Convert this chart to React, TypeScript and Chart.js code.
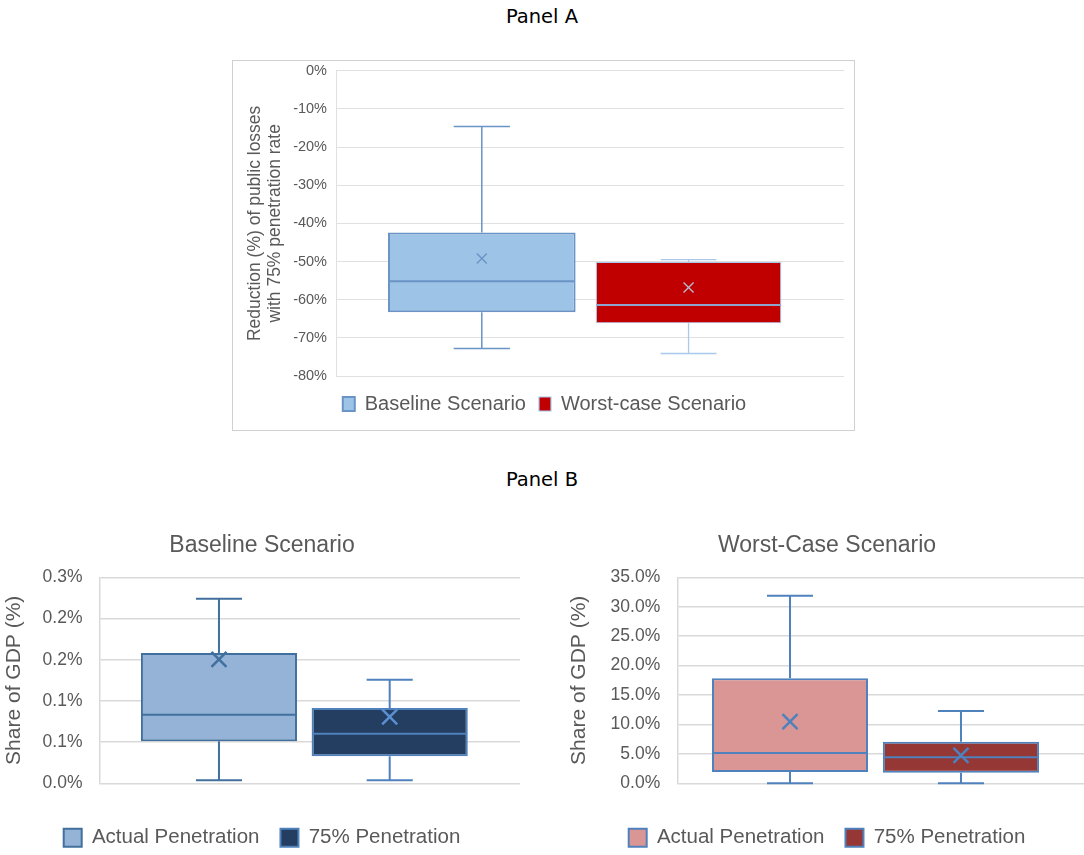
import React, { useEffect, useRef } from 'react';
import { Chart, registerables } from 'chart.js';

Chart.register(...registerables);

const FONT = '"Liberation Sans", Arial, sans-serif';
const TEXT = '#595959';
const GRID = '#D9D9D9';

// ---------- Panel A data ----------
const panelASeries = ['Baseline Scenario', 'Worst-case Scenario'];
const panelAMin = [-72.8, -74.1];
const panelAQ1 = [-63.3, -66.2];
const panelAMedian = [-55.2, -61.4];
const panelAQ3 = [-42.4, -50.1];
const panelAMax = [-14.6, -49.5];
const panelAMean = [-49.2, -56.8];
const panelATickLabels = ['-80%', '-70%', '-60%', '-50%', '-40%', '-30%', '-20%', '-10%', '0%'];
const panelAAxisTitle = ['Reduction (%) of public losses', 'with 75% penetration rate'];

// ---------- Panel B data ----------
const panelBSeries = ['Actual Penetration', '75% Penetration'];
const panelBAxisTitle = 'Share of GDP (%)';

const baselineTitle = 'Baseline Scenario';
const baselineMin = [0.0036, 0.0036];
const baselineQ1 = [0.051, 0.0328];
const baselineMedian = [0.0833, 0.0602];
const baselineQ3 = [0.1581, 0.0914];
const baselineMax = [0.224, 0.1257];
const baselineMean = [0.1505, 0.0805];
const baselineTickLabels = ['0.0%', '0.1%', '0.1%', '0.2%', '0.2%', '0.3%'];

const worstTitle = 'Worst-Case Scenario';
const worstMin = [0, 0];
const worstQ1 = [1.92, 1.8];
const worstMedian = [5.15, 4.42];
const worstQ3 = [17.84, 7.07];
const worstMax = [31.87, 12.28];
const worstMean = [10.47, 4.76];
const worstTickLabels = ['0.0%', '5.0%', '10.0%', '15.0%', '20.0%', '25.0%', '30.0%', '35.0%'];

type BoxStyle = {
  fill: string;
  border: string;
  borderWidth: number;
  whisker: string;
  whiskerWidth: number;
  median: string;
  medianWidth: number;
  mean: string;
  meanSize: number;
  meanWidth: number;
  capRatio: number;
  catPct: number;
  barPct: number;
};

const boxPlotPlugin = {
  id: 'boxPlot',
  beforeDatasetsDraw(chart: any) {
    const { ctx } = chart;
    const y = chart.scales.y;
    chart.data.datasets.forEach((ds: any, i: number) => {
      const meta = chart.getDatasetMeta(i);
      const st: BoxStyle = ds.box;
      meta.data.forEach((el: any, j: number) => {
        const x = el.x;
        const cap = (el.width * st.capRatio) / 2;
        const pMax = y.getPixelForValue(ds.stats.max[j]);
        const pMin = y.getPixelForValue(ds.stats.min[j]);
        const pQ1 = y.getPixelForValue(ds.data[j][0]);
        const pQ3 = y.getPixelForValue(ds.data[j][1]);
        ctx.save();
        ctx.strokeStyle = st.whisker;
        ctx.lineWidth = st.whiskerWidth;
        ctx.beginPath();
        ctx.moveTo(x, pQ3);
        ctx.lineTo(x, pMax);
        ctx.moveTo(x - cap, pMax);
        ctx.lineTo(x + cap, pMax);
        ctx.moveTo(x, pQ1);
        ctx.lineTo(x, pMin);
        ctx.moveTo(x - cap, pMin);
        ctx.lineTo(x + cap, pMin);
        ctx.stroke();
        ctx.restore();
      });
    });
  },
  afterDatasetsDraw(chart: any) {
    const { ctx } = chart;
    const y = chart.scales.y;
    chart.data.datasets.forEach((ds: any, i: number) => {
      const meta = chart.getDatasetMeta(i);
      const st: BoxStyle = ds.box;
      meta.data.forEach((el: any, j: number) => {
        const x = el.x;
        const half = el.width / 2 - st.borderWidth / 2;
        const pMed = y.getPixelForValue(ds.stats.median[j]);
        const pMean = y.getPixelForValue(ds.stats.mean[j]);
        ctx.save();
        ctx.strokeStyle = st.median;
        ctx.lineWidth = st.medianWidth;
        ctx.beginPath();
        ctx.moveTo(x - half, pMed);
        ctx.lineTo(x + half, pMed);
        ctx.stroke();
        const s = st.meanSize / 2;
        ctx.strokeStyle = st.mean;
        ctx.lineWidth = st.meanWidth;
        ctx.beginPath();
        ctx.moveTo(x - s, pMean - s);
        ctx.lineTo(x + s, pMean + s);
        ctx.moveTo(x + s, pMean - s);
        ctx.lineTo(x - s, pMean + s);
        ctx.stroke();
        ctx.restore();
      });
    });
  },
};

function boxDatasets(
  labels: string[],
  mins: number[],
  q1s: number[],
  meds: number[],
  q3s: number[],
  maxs: number[],
  means: number[],
  styles: BoxStyle[]
) {
  return labels.map((label, i) => ({
    label,
    data: [[q1s[i], q3s[i]]],
    stats: { min: [mins[i]], median: [meds[i]], max: [maxs[i]], mean: [means[i]] },
    box: styles[i],
    backgroundColor: styles[i].fill,
    borderColor: styles[i].border,
    borderWidth: styles[i].borderWidth,
    borderSkipped: false,
    categoryPercentage: styles[i].catPct,
    barPercentage: styles[i].barPct,
  }));
}

type ChartSpec = {
  datasets: any[];
  yMin: number;
  yMax: number;
  yStep: number;
  tickLabels: string[];
  tickFont: number;
  tickPad: number;
  gridWidth: number;
  gridColor: string;
  axisTitle: string | string[];
  axisTitleFont: number;
  axisTitleLineHeight: number;
  axisWidth: number;
  title?: string;
  titleFont?: number;
  titlePadTop?: number;
  titlePadBottom?: number;
  legendFont: number;
  legendPad: number;
  boxW: number;
  boxH: number;
  xSpacer: number;
  padding: { top: number; bottom: number; left: number; right: number };
};

function buildConfig(s: ChartSpec): any {
  return {
    type: 'bar',
    data: { labels: [''], datasets: s.datasets },
    plugins: [boxPlotPlugin],
    options: {
      responsive: false,
      animation: false,
      devicePixelRatio: 1,
      layout: { padding: s.padding },
      plugins: {
        tooltip: { enabled: false },
        title: s.title
          ? {
              display: true,
              text: s.title,
              color: TEXT,
              font: { family: FONT, size: s.titleFont, weight: 'normal', lineHeight: 1.2 },
              padding: { top: s.titlePadTop, bottom: s.titlePadBottom },
            }
          : { display: false },
        legend: {
          display: true,
          position: 'bottom',
          labels: {
            color: TEXT,
            font: { family: FONT, size: s.legendFont },
            boxWidth: s.boxW,
            boxHeight: s.boxH,
            padding: s.legendPad,
          },
        },
      },
      scales: {
        x: {
          display: true,
          grid: { display: false, drawTicks: true, tickLength: s.xSpacer },
          border: { display: false },
          ticks: { display: false },
        },
        y: {
          min: s.yMin,
          max: s.yMax,
          afterFit: (scale: any) => {
            scale.width = s.axisWidth;
          },
          ticks: {
            stepSize: s.yStep,
            color: TEXT,
            padding: s.tickPad,
            font: { family: FONT, size: s.tickFont },
            callback: (_v: any, index: number) => s.tickLabels[index] ?? '',
          },
          grid: { color: s.gridColor, lineWidth: s.gridWidth, drawTicks: false },
          border: { display: true, color: s.gridColor, width: s.gridWidth },
          title: {
            display: true,
            text: s.axisTitle,
            color: TEXT,
            font: { family: FONT, size: s.axisTitleFont, lineHeight: s.axisTitleLineHeight },
            padding: { top: 0, bottom: 0 },
          },
        },
      },
    },
  };
}

function ChartBox(props: { left: number; top: number; width: number; height: number; spec: () => ChartSpec }) {
  const ref = useRef<HTMLCanvasElement>(null);
  useEffect(() => {
    if (!ref.current) return;
    const chart = new Chart(ref.current, buildConfig(props.spec()));
    return () => chart.destroy();
  }, []);
  return (
    <canvas
      ref={ref}
      width={props.width}
      height={props.height}
      style={{ position: 'absolute', left: props.left, top: props.top, width: props.width, height: props.height }}
    />
  );
}

const panelAStyles: BoxStyle[] = [
  {
    fill: '#9DC3E6', border: '#6A93C6', borderWidth: 2, whisker: '#6A93C6', whiskerWidth: 1.5,
    median: '#6A93C6', medianWidth: 2, mean: '#6A93C6', meanSize: 10, meanWidth: 1.3, capRatio: 0.3,
    catPct: 0.852, barPct: 0.867,
  },
  {
    fill: '#C00000', border: '#A9C8EA', borderWidth: 1.2, whisker: '#A9C8EA', whiskerWidth: 1.3,
    median: '#8EA6CF', medianWidth: 2, mean: '#B4BFD2', meanSize: 10, meanWidth: 1.3, capRatio: 0.3,
    catPct: 0.776, barPct: 0.942,
  },
];

const baselineStyles: BoxStyle[] = [
  {
    fill: '#95B3D7', border: '#41709F', borderWidth: 2, whisker: '#41709F', whiskerWidth: 2,
    median: '#41709F', medianWidth: 2, mean: '#41709F', meanSize: 15, meanWidth: 2.5, capRatio: 0.295,
    catPct: 0.867, barPct: 0.857,
  },
  {
    fill: '#233E60', border: '#4F81BD', borderWidth: 2, whisker: '#4F81BD', whiskerWidth: 2,
    median: '#4F81BD', medianWidth: 2, mean: '#5B8FD3', meanSize: 15, meanWidth: 2.5, capRatio: 0.295,
    catPct: 0.759, barPct: 0.98,
  },
];

const worstStyles: BoxStyle[] = [
  {
    fill: '#D99694', border: '#4F81BD', borderWidth: 2, whisker: '#4F81BD', whiskerWidth: 2,
    median: '#4F81BD', medianWidth: 2, mean: '#4F81BD', meanSize: 15, meanWidth: 2.5, capRatio: 0.295,
    catPct: 0.897, barPct: 0.854,
  },
  {
    fill: '#953735', border: '#4F81BD', borderWidth: 2, whisker: '#4F81BD', whiskerWidth: 2,
    median: '#4F81BD', medianWidth: 2, mean: '#4F81BD', meanSize: 15, meanWidth: 2.5, capRatio: 0.295,
    catPct: 0.782, barPct: 0.981,
  },
];

const panelASpec = (): ChartSpec => ({
  datasets: boxDatasets(panelASeries, panelAMin, panelAQ1, panelAMedian, panelAQ3, panelAMax, panelAMean, panelAStyles),
  yMin: -80,
  yMax: 0,
  yStep: 10,
  tickLabels: panelATickLabels,
  tickFont: 14.5,
  tickPad: 9,
  gridWidth: 1,
  gridColor: '#E0E0E0',
  axisTitle: panelAAxisTitle,
  axisTitleFont: 17.5,
  axisTitleLineHeight: 20 / 17.5,
  axisWidth: 91,
  legendFont: 20,
  legendPad: 13,
  boxW: 12,
  boxH: 14,
  xSpacer: 5,
  padding: { top: 0, bottom: 6, left: 12, right: 0 },
});

const baselineSpec = (): ChartSpec => ({
  datasets: boxDatasets(panelBSeries, baselineMin, baselineQ1, baselineMedian, baselineQ3, baselineMax, baselineMean, baselineStyles),
  yMin: 0,
  yMax: 0.25,
  yStep: 0.05,
  tickLabels: baselineTickLabels,
  tickFont: 17.5,
  tickPad: 17.5,
  gridWidth: 1.5,
  gridColor: GRID,
  axisTitle: panelBAxisTitle,
  axisTitleFont: 21,
  axisTitleLineHeight: 1,
  axisWidth: 96,
  title: baselineTitle,
  titleFont: 23,
  titlePadTop: 7,
  titlePadBottom: 17.7,
  legendFont: 20.5,
  legendPad: 21,
  boxW: 18,
  boxH: 18,
  xSpacer: 23.2,
  padding: { top: 0, bottom: 2, left: 0, right: 0 },
});

const worstSpec = (): ChartSpec => ({
  datasets: boxDatasets(panelBSeries, worstMin, worstQ1, worstMedian, worstQ3, worstMax, worstMean, worstStyles),
  yMin: 0,
  yMax: 35,
  yStep: 5,
  tickLabels: worstTickLabels,
  tickFont: 17.5,
  tickPad: 17.5,
  gridWidth: 1.5,
  gridColor: GRID,
  axisTitle: panelBAxisTitle,
  axisTitleFont: 21,
  axisTitleLineHeight: 1,
  axisWidth: 108.7,
  title: worstTitle,
  titleFont: 23,
  titlePadTop: 7,
  titlePadBottom: 17.7,
  legendFont: 20.5,
  legendPad: 21,
  boxW: 18,
  boxH: 18,
  xSpacer: 23.2,
  padding: { top: 0, bottom: 2, left: 0, right: 0 },
});

const panelTextStyle: React.CSSProperties = {
  position: 'absolute',
  left: 0,
  width: 1084,
  textAlign: 'center',
  fontFamily: '"DejaVu Sans", "Noto Sans", sans-serif',
  fontSize: 19.5,
  lineHeight: '24px',
  color: '#000',
};

export default function App() {
  return (
    <div
      style={{
        position: 'fixed',
        left: 0,
        top: 0,
        width: 1084,
        height: 855,
        overflow: 'hidden',
        background: '#ffffff',
      }}
    >
      <div style={{ ...panelTextStyle, top: 5 }}>Panel A</div>
      <div
        style={{
          position: 'absolute',
          left: 232,
          top: 60,
          width: 621,
          height: 369,
          border: '1px solid #D0D0D0',
        }}
      />
      <ChartBox left={233} top={53} width={611} height={377} spec={panelASpec} />
      <div style={{ ...panelTextStyle, top: 468 }}>Panel B</div>
      <ChartBox left={4} top={525} width={516} height={335} spec={baselineSpec} />
      <ChartBox left={569} top={525} width={516} height={335} spec={worstSpec} />
    </div>
  );
}
